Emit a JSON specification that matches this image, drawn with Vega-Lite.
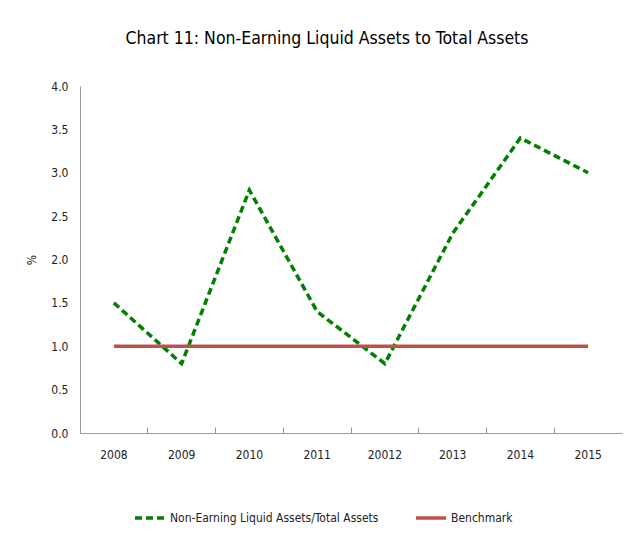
{
  "$schema": "https://vega.github.io/schema/vega-lite/v6.json",
  "width": 542,
  "height": 347,
  "autosize": {"type": "none"},
  "padding": {"left": 80, "top": 86, "right": 7, "bottom": 111},
  "background": "white",
  "title": {
    "text": "Chart 11: Non-Earning Liquid Assets to Total Assets",
    "font": "DejaVu Sans Condensed, Liberation Sans",
    "fontSize": 17.5,
    "fontWeight": "normal",
    "color": "#000000",
    "anchor": "middle",
    "dx": -24,
    "offset": 33
  },
  "data": {
    "values": [
      {"year": "2008", "series": "Non-Earning Liquid Assets/Total Assets", "value": 1.5},
      {"year": "2009", "series": "Non-Earning Liquid Assets/Total Assets", "value": 0.8},
      {"year": "2010", "series": "Non-Earning Liquid Assets/Total Assets", "value": 2.8},
      {"year": "2011", "series": "Non-Earning Liquid Assets/Total Assets", "value": 1.4},
      {"year": "20012", "series": "Non-Earning Liquid Assets/Total Assets", "value": 0.8},
      {"year": "2013", "series": "Non-Earning Liquid Assets/Total Assets", "value": 2.3},
      {"year": "2014", "series": "Non-Earning Liquid Assets/Total Assets", "value": 3.4},
      {"year": "2015", "series": "Non-Earning Liquid Assets/Total Assets", "value": 3.0},
      {"year": "2008", "series": "Benchmark", "value": 1.0},
      {"year": "2009", "series": "Benchmark", "value": 1.0},
      {"year": "2010", "series": "Benchmark", "value": 1.0},
      {"year": "2011", "series": "Benchmark", "value": 1.0},
      {"year": "20012", "series": "Benchmark", "value": 1.0},
      {"year": "2013", "series": "Benchmark", "value": 1.0},
      {"year": "2014", "series": "Benchmark", "value": 1.0},
      {"year": "2015", "series": "Benchmark", "value": 1.0}
    ]
  },
  "mark": {"type": "line", "strokeWidth": 3.5},
  "encoding": {
    "x": {
      "field": "year",
      "type": "ordinal",
      "sort": null,
      "scale": {"type": "band", "paddingInner": 0, "paddingOuter": 0},
      "axis": {
        "title": null,
        "labelAngle": 0,
        "bandPosition": 0,
        "labelFont": "DejaVu Sans Condensed, Liberation Sans",
        "labelFontSize": 12,
        "labelColor": "#222222",
        "labelPadding": 22,
        "labelAlign": "center",
        "tickSize": -6,
        "tickColor": "#999999",
        "domainColor": "#999999",
        "grid": false
      }
    },
    "y": {
      "field": "value",
      "type": "quantitative",
      "scale": {"domain": [0, 4]},
      "axis": {
        "title": "%",
        "titleAngle": -90,
        "titleFont": "DejaVu Sans Condensed, Liberation Sans",
        "titleFontSize": 12,
        "titleFontWeight": "normal",
        "titleColor": "#222222",
        "titlePadding": 12,
        "values": [0, 0.5, 1, 1.5, 2, 2.5, 3, 3.5, 4],
        "format": ".1f",
        "labelFont": "DejaVu Sans Condensed, Liberation Sans",
        "labelFontSize": 12,
        "labelColor": "#222222",
        "labelPadding": 12,
        "ticks": false,
        "domainColor": "#999999",
        "grid": false
      }
    },
    "color": {
      "field": "series",
      "type": "nominal",
      "sort": ["Non-Earning Liquid Assets/Total Assets", "Benchmark"],
      "scale": {
        "domain": ["Non-Earning Liquid Assets/Total Assets", "Benchmark"],
        "range": ["#008000", "#C0504D"]
      },
      "legend": {
        "title": null,
        "orient": "none",
        "legendX": 53,
        "legendY": 415,
        "direction": "horizontal",
        "symbolType": "stroke",
        "symbolSize": 900,
        "symbolStrokeWidth": 3.5,
        "labelFont": "DejaVu Sans Condensed, Liberation Sans",
        "labelFontSize": 12,
        "labelColor": "#222222",
        "labelLimit": 0,
        "labelOffset": 3,
        "columnPadding": 30
      }
    },
    "strokeDash": {
      "field": "series",
      "type": "nominal",
      "sort": ["Non-Earning Liquid Assets/Total Assets", "Benchmark"],
      "scale": {
        "domain": ["Non-Earning Liquid Assets/Total Assets", "Benchmark"],
        "range": [[7, 4], [1, 0]]
      },
      "legend": null
    }
  },
  "config": {"view": {"stroke": null}}
}
